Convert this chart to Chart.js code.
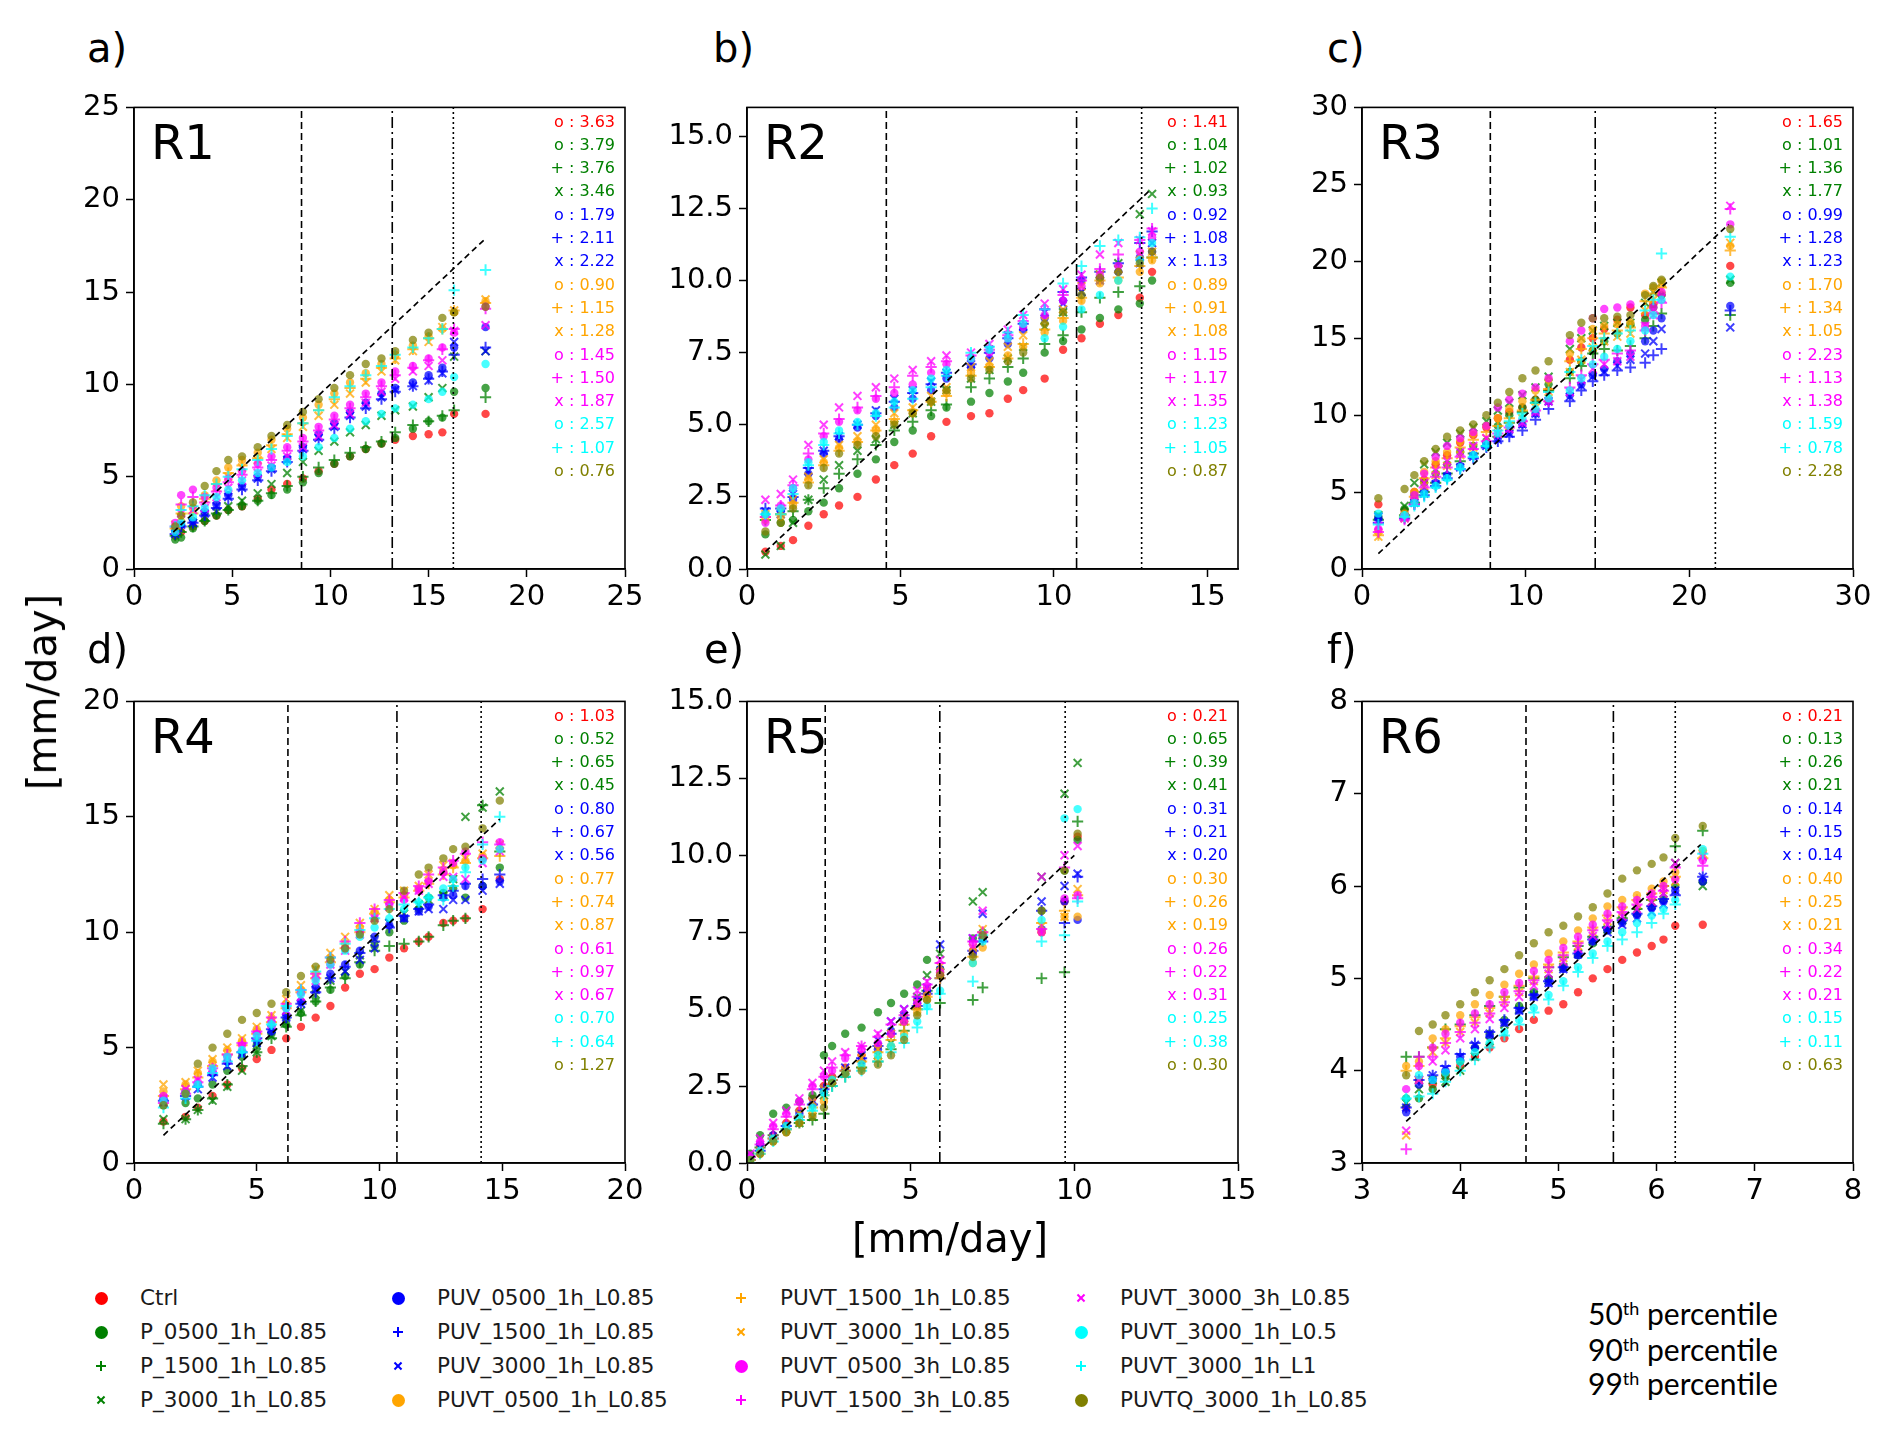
<!DOCTYPE html>
<html>
<head>
<meta charset="utf-8">
<script src="https://cdn.jsdelivr.net/npm/chart.js@4.4.1/dist/chart.umd.min.js"></script>
<style>
  body { margin: 0; width: 1892px; height: 1444px; background: #fff; position: relative; overflow: hidden;
         font-family: "DejaVu Sans", sans-serif; color: #000; }
  canvas.panel { position: absolute; }
  .txt { position: absolute; white-space: nowrap; line-height: 1; }
  .tag { font-size: 40px; }
  .axlabel { font-size: 40px; }
  .leg { font-size: 21.5px; color: #1a1a1a; }
  .pct { font-family: Lato, "Open Sans", sans-serif; font-size: 30px; }
  .pct sup { font-size: 60%; vertical-align: 0.55em; line-height: 0; }
  .mk { position: absolute; }
</style>
</head>
<body>
<script>
// Series meta
const seriesNames = ['Ctrl', 'P_0500_1h_L0.85', 'P_1500_1h_L0.85', 'P_3000_1h_L0.85',
  'PUV_0500_1h_L0.85', 'PUV_1500_1h_L0.85', 'PUV_3000_1h_L0.85',
  'PUVT_0500_1h_L0.85', 'PUVT_1500_1h_L0.85', 'PUVT_3000_1h_L0.85',
  'PUVT_0500_3h_L0.85', 'PUVT_1500_3h_L0.85', 'PUVT_3000_3h_L0.85',
  'PUVT_3000_1h_L0.5', 'PUVT_3000_1h_L1', 'PUVTQ_3000_1h_L0.85'];
const seriesColors = ['#ff0000', '#008000', '#008000', '#008000', '#0000ff', '#0000ff', '#0000ff',
  '#ffa500', '#ffa500', '#ffa500', '#ff00ff', '#ff00ff', '#ff00ff', '#00ffff', '#00ffff', '#808000'];
const seriesMarkers = ['o', 'o', '+', 'x', 'o', '+', 'x', 'o', '+', 'x', 'o', '+', 'x', 'o', '+', 'o'];

// ---- R1 ----
const r1X = [2.1, 2.4, 3.0, 3.6, 4.2, 4.8, 5.5, 6.3, 7.0, 7.8, 8.6, 9.4, 10.2, 11.0, 11.8, 12.6, 13.3, 14.2, 15.0, 15.7, 16.3, 17.9];
const r1Ctrl = [1.8, 2.0, 2.3, 2.6, 2.9, 3.2, 3.4, 3.8, 4.3, 4.6, 4.9, 5.3, 5.7, 6.1, 6.5, 6.8, 7.0, 7.2, 7.3, 7.4, 8.4, 8.4];
const r1P05 = [1.6, 1.7, 2.2, 2.6, 2.9, 3.2, 3.4, 3.7, 4.0, 4.3, 4.7, 5.2, 5.7, 6.1, 6.5, 6.8, 7.1, 7.6, 8.0, 8.2, 9.6, 9.8];
const r1P15 = [1.8, 2.0, 2.3, 2.6, 3.0, 3.2, 3.5, 3.7, 4.1, 4.5, 5.0, 5.5, 5.9, 6.3, 6.6, 6.9, 7.4, 7.8, 8.0, 8.3, 8.6, 9.3];
const r1P30 = [2.0, 2.2, 2.5, 2.8, 3.1, 3.4, 3.7, 4.1, 4.6, 5.2, 5.8, 6.4, 6.9, 7.4, 7.8, 8.3, 8.6, 8.8, 9.3, 9.8, 11.5, 11.8];
const r1Puv05 = [2.0, 2.4, 2.6, 3.1, 3.5, 4.0, 4.5, 5.0, 5.5, 6.0, 6.6, 7.3, 7.9, 8.5, 9.0, 9.5, 9.8, 10.1, 10.5, 10.9, 12.0, 13.1];
const r1Puv15 = [1.9, 2.3, 2.5, 2.9, 3.3, 3.8, 4.3, 4.8, 5.3, 5.8, 6.4, 7.0, 7.6, 8.2, 8.7, 9.2, 9.6, 9.9, 10.3, 10.7, 11.6, 12.0];
const r1Puv30 = [1.9, 2.4, 2.5, 3.0, 3.4, 3.9, 4.4, 4.9, 5.4, 5.9, 6.5, 7.1, 7.7, 8.3, 8.8, 9.3, 9.7, 9.9, 10.2, 10.6, 12.3, 11.8];
const r1T05 = [2.3, 3.4, 3.3, 4.0, 4.8, 5.5, 5.9, 6.3, 7.0, 7.6, 8.2, 8.9, 9.5, 10.1, 10.6, 11.1, 11.6, 12.1, 12.6, 13.0, 13.9, 14.5];
const r1T15 = [2.2, 3.0, 3.0, 3.8, 4.6, 5.2, 5.6, 6.0, 6.7, 7.3, 7.9, 8.6, 9.2, 9.8, 10.3, 10.9, 11.4, 11.9, 12.5, 13.0, 14.0, 14.4];
const r1T30 = [2.4, 2.8, 3.2, 3.8, 4.4, 5.0, 5.5, 5.9, 6.5, 7.1, 7.7, 8.3, 8.9, 9.5, 10.1, 10.7, 11.3, 11.8, 12.3, 13.1, 14.0, 14.6];
const r1T05h3 = [2.5, 4.0, 4.3, 3.9, 4.4, 4.9, 5.3, 5.7, 6.1, 6.6, 7.1, 7.7, 8.3, 8.9, 9.5, 10.1, 10.7, 11.0, 11.4, 12.0, 12.8, 14.2];
const r1T15h3 = [2.3, 3.5, 3.9, 3.6, 4.2, 4.7, 5.1, 5.5, 5.9, 6.4, 6.9, 7.5, 8.1, 8.7, 9.3, 9.9, 10.5, 10.9, 11.3, 11.9, 13.0, 14.1];
const r1T30h3 = [2.1, 3.0, 3.2, 3.3, 3.9, 4.4, 4.8, 5.2, 5.6, 6.1, 6.6, 7.2, 7.8, 8.4, 9.0, 9.6, 10.3, 10.7, 11.0, 11.3, 12.9, 13.2];
const r1L05 = [2.0, 2.5, 2.8, 3.3, 3.9, 4.3, 4.8, 5.2, 5.5, 5.8, 6.1, 6.6, 7.1, 7.6, 8.0, 8.4, 8.7, 8.9, 9.2, 9.6, 10.4, 11.1];
const r1L1 = [2.3, 3.2, 3.4, 4.0, 4.6, 5.0, 5.4, 5.9, 6.5, 7.2, 7.9, 8.6, 9.3, 9.9, 10.5, 11.0, 11.6, 12.0, 12.5, 13.0, 15.1, 16.2];
const r1Q = [2.3, 2.9, 3.6, 4.5, 5.3, 5.9, 6.1, 6.6, 7.2, 7.8, 8.5, 9.2, 9.8, 10.5, 11.1, 11.4, 11.8, 12.4, 12.8, 13.6, 13.9, 14.2];
const r1Err = ['3.63', '3.79', '3.76', '3.46', '1.79', '2.11', '2.22', '0.90', '1.15', '1.28', '1.45', '1.50', '1.87', '2.57', '1.07', '0.76'];
const r1Pct = [8.53, 13.15, 16.26];
const r1Diag = [2.0, 17.9];
const r1XTicks = [0, 5, 10, 15, 20, 25];
const r1YTicks = [0, 5, 10, 15, 20, 25];
const r1YLabels = ['0', '5', '10', '15', '20', '25'];

// ---- R2 ----
const r2X = [0.6, 1.1, 1.5, 2.0, 2.5, 3.0, 3.6, 4.2, 4.8, 5.4, 6.0, 6.5, 7.3, 7.9, 8.5, 9.0, 9.7, 10.3, 10.9, 11.5, 12.1, 12.8, 13.2];
const r2Ctrl = [0.6, 0.8, 1.0, 1.5, 1.9, 2.2, 2.5, 3.1, 3.6, 4.0, 4.6, 5.1, 5.3, 5.4, 5.9, 6.2, 6.6, 7.6, 8.0, 8.5, 8.8, 9.4, 10.3];
const r2P05 = [1.2, 1.6, 1.7, 2.0, 2.3, 2.8, 3.3, 3.8, 4.4, 4.8, 5.3, 5.6, 5.8, 6.1, 6.5, 6.8, 7.5, 7.9, 8.3, 8.7, 9.0, 9.2, 10.0];
const r2P15 = [1.7, 1.9, 2.0, 2.4, 2.8, 3.3, 3.8, 4.3, 4.8, 5.1, 5.5, 5.7, 6.3, 6.6, 7.0, 7.3, 7.8, 8.1, 8.9, 9.4, 9.6, 9.8, 10.8];
const r2P30 = [0.5, 0.8, 1.6, 2.4, 3.1, 3.6, 4.1, 4.5, 5.0, 5.4, 5.8, 6.2, 6.6, 6.9, 7.3, 7.7, 8.4, 8.9, 9.6, 10.2, 10.6, 12.3, 13.0];
const r2Puv05 = [1.9, 2.0, 2.4, 3.3, 4.0, 4.5, 4.9, 5.3, 5.6, 5.9, 6.2, 6.6, 7.0, 7.3, 7.8, 8.3, 8.7, 9.3, 10.0, 10.0, 10.3, 10.8, 11.0];
const r2Puv15 = [2.1, 2.1, 2.5, 3.5, 4.1, 4.6, 5.0, 5.4, 5.8, 6.1, 6.4, 6.8, 7.1, 7.5, 8.0, 8.5, 9.0, 9.6, 10.1, 10.3, 10.6, 11.3, 11.7];
const r2Puv30 = [2.0, 1.9, 2.6, 3.4, 4.1, 4.6, 5.0, 5.5, 5.9, 6.2, 6.5, 6.8, 7.1, 7.6, 8.1, 8.4, 8.9, 9.2, 9.6, 10.0, 10.4, 10.6, 11.3];
const r2T05 = [1.7, 1.8, 2.2, 3.1, 3.7, 4.2, 4.4, 4.8, 5.1, 5.4, 5.8, 6.1, 6.8, 7.0, 7.4, 7.7, 8.2, 8.6, 9.3, 9.9, 10.0, 10.3, 10.7];
const r2T15 = [1.8, 1.9, 2.3, 3.0, 3.6, 4.1, 4.4, 4.8, 5.2, 5.5, 5.8, 6.0, 6.7, 7.0, 7.3, 7.8, 8.3, 8.7, 9.4, 10.0, 10.1, 10.5, 10.8];
const r2T30 = [1.9, 2.0, 2.4, 3.2, 3.8, 4.3, 4.6, 5.0, 5.4, 5.6, 6.0, 6.3, 7.0, 7.2, 7.7, 8.1, 8.6, 9.0, 9.8, 10.2, 10.4, 10.9, 11.0];
const r2T05h3 = [1.6, 2.2, 2.8, 3.8, 4.6, 5.1, 5.5, 5.9, 6.1, 6.4, 6.8, 7.1, 7.3, 7.5, 8.0, 8.4, 8.8, 9.3, 9.8, 10.2, 10.5, 11.0, 11.5];
const r2T15h3 = [1.8, 2.2, 2.9, 4.0, 4.7, 5.2, 5.6, 6.0, 6.3, 6.7, 7.0, 7.2, 7.4, 7.6, 8.1, 8.6, 9.0, 9.5, 10.0, 10.4, 10.9, 11.4, 11.8];
const r2T30h3 = [2.4, 2.6, 3.1, 4.3, 5.0, 5.6, 6.0, 6.3, 6.6, 6.9, 7.2, 7.4, 7.5, 7.8, 8.3, 8.8, 9.2, 9.7, 10.2, 10.9, 11.3, 11.4, 11.7];
const r2L05 = [1.9, 2.1, 2.8, 3.7, 4.4, 4.8, 5.1, 5.4, 5.8, 6.2, 6.6, 6.9, 7.3, 7.6, 8.0, 8.5, 8.0, 8.4, 9.0, 9.5, 10.0, 10.7, 11.3];
const r2L1 = [1.9, 1.9, 2.6, 3.6, 4.3, 4.7, 5.0, 5.3, 5.6, 5.9, 6.3, 6.7, 7.5, 7.7, 8.2, 8.8, 9.0, 9.9, 10.5, 11.2, 11.4, 11.5, 12.5];
const r2Q = [1.3, 1.6, 2.1, 2.9, 3.5, 4.0, 4.3, 4.6, 5.0, 5.4, 5.8, 6.2, 6.6, 6.9, 7.2, 7.5, 8.5, 8.9, 9.5, 10.1, 10.3, 10.6, 11.0];
const r2Err = ['1.41', '1.04', '1.02', '0.93', '0.92', '1.08', '1.13', '0.89', '0.91', '1.08', '1.15', '1.17', '1.35', '1.23', '1.05', '0.87'];
const r2Pct = [4.54, 10.74, 12.86];
const r2Diag = [0.6, 13.1];
const r2XTicks = [0, 5, 10, 15];
const r2YTicks = [0, 2.5, 5, 7.5, 10, 12.5, 15];
const r2YLabels = ['0.0', '2.5', '5.0', '7.5', '10.0', '12.5', '15.0'];

// ---- R3 ----
const r3X = [1.0, 2.6, 3.2, 3.8, 4.5, 5.2, 6.0, 6.8, 7.6, 8.3, 9.0, 9.8, 10.6, 11.4, 12.7, 13.4, 14.1, 14.8, 15.6, 16.4, 17.3, 17.8, 18.3, 22.5];
const r3Ctrl = [4.2, 3.8, 5.0, 5.8, 6.8, 7.4, 8.2, 8.7, 9.2, 9.8, 10.2, 10.5, 11.0, 11.6, 13.6, 14.4, 15.0, 15.6, 16.2, 17.0, 16.5, 17.2, 17.8, 19.7];
const r3P05 = [3.4, 3.9, 4.8, 5.6, 6.2, 6.8, 7.6, 8.0, 8.3, 9.3, 10.0, 10.5, 11.0, 12.0, 12.8, 13.5, 14.2, 14.8, 15.3, 15.9, 16.2, 17.0, 17.8, 18.6];
const r3P15 = [3.2, 3.5, 4.3, 5.0, 5.6, 6.2, 7.0, 7.5, 8.0, 8.6, 9.5, 10.2, 10.8, 11.6, 12.4, 13.2, 14.0, 14.3, 14.2, 14.5, 15.0, 15.8, 16.6, 16.5];
const r3P30 = [3.5, 4.1, 5.6, 6.8, 7.6, 8.2, 8.8, 9.2, 9.6, 10.3, 10.8, 11.3, 11.8, 12.5, 14.3, 15.0, 15.5, 15.8, 16.0, 16.0, 17.3, 18.0, 18.6, 18.8];
const r3Puv05 = [3.3, 3.4, 4.4, 5.0, 5.6, 6.1, 6.7, 7.4, 8.1, 8.5, 8.9, 9.4, 10.1, 10.9, 11.3, 12.0, 12.6, 13.0, 13.5, 14.0, 14.8, 15.5, 16.3, 17.1];
const r3Puv15 = [3.0, 3.3, 4.2, 4.8, 5.4, 5.9, 6.5, 7.2, 7.9, 8.3, 8.6, 9.0, 9.7, 10.4, 10.9, 11.6, 12.2, 12.6, 12.9, 13.1, 13.4, 13.9, 14.3, 16.8];
const r3Puv30 = [3.4, 3.4, 4.3, 4.9, 5.5, 6.0, 6.6, 7.3, 8.0, 8.4, 8.8, 9.4, 10.1, 10.9, 11.2, 11.9, 12.5, 12.8, 13.2, 13.6, 14.0, 14.8, 15.6, 15.7];
const r3T05 = [2.5, 3.6, 5.0, 6.3, 7.0, 7.6, 8.3, 8.8, 9.3, 9.8, 10.4, 10.9, 11.6, 12.3, 14.0, 14.9, 15.6, 15.8, 15.9, 16.0, 17.9, 18.3, 18.7, 21.0];
const r3T15 = [2.2, 3.4, 4.7, 5.9, 6.6, 7.2, 7.9, 8.4, 8.9, 9.3, 9.8, 10.3, 11.0, 11.7, 13.5, 14.3, 15.0, 15.3, 15.5, 15.7, 17.4, 17.9, 18.3, 20.7];
const r3T30 = [2.1, 3.3, 4.4, 5.4, 6.1, 6.7, 7.4, 7.9, 8.5, 8.8, 9.3, 9.8, 10.5, 11.1, 12.8, 13.6, 14.4, 14.8, 15.1, 15.3, 16.8, 17.5, 18.2, 21.2];
const r3T05h3 = [2.6, 3.4, 4.8, 6.2, 7.3, 8.0, 8.5, 8.9, 9.3, 10.5, 11.0, 11.4, 11.8, 12.4, 14.8, 15.5, 16.3, 16.9, 17.0, 17.2, 15.8, 17.0, 18.0, 22.4];
const r3T15h3 = [2.4, 3.2, 4.2, 5.3, 6.0, 6.6, 7.3, 7.8, 8.3, 8.8, 9.2, 9.6, 10.3, 10.9, 11.8, 12.6, 13.3, 13.6, 14.0, 14.2, 15.5, 16.6, 17.3, 23.4];
const r3T30h3 = [2.8, 3.3, 4.4, 5.6, 6.4, 7.0, 7.6, 8.0, 8.5, 8.8, 9.1, 9.5, 10.2, 10.9, 11.5, 12.3, 13.0, 13.3, 13.5, 13.8, 15.8, 16.5, 17.6, 23.6];
const r3L05 = [3.6, 3.5, 4.3, 4.9, 5.4, 5.9, 6.6, 7.4, 8.1, 8.8, 9.3, 9.8, 10.4, 11.1, 11.6, 12.4, 13.3, 13.8, 14.3, 14.8, 15.5, 16.5, 17.5, 19.0];
const r3L1 = [2.9, 3.4, 4.1, 4.7, 5.3, 5.8, 6.5, 7.3, 8.0, 9.0, 9.6, 10.1, 10.8, 11.5, 12.8, 13.6, 14.5, 15.0, 15.3, 15.5, 16.8, 17.5, 20.5, 21.6];
const r3Q = [4.6, 5.2, 6.1, 7.0, 7.8, 8.6, 9.0, 9.4, 10.0, 10.8, 11.5, 12.4, 12.9, 13.5, 15.2, 16.0, 16.3, 16.3, 16.4, 16.5, 17.8, 18.4, 18.8, 22.1];
const r3Err = ['1.65', '1.01', '1.36', '1.77', '0.99', '1.28', '1.23', '1.70', '1.34', '1.05', '2.23', '1.13', '1.38', '1.59', '0.78', '2.28'];
const r3Pct = [7.84, 14.25, 21.59];
const r3Diag = [1.0, 22.4];
const r3XTicks = [0, 10, 20, 30];
const r3YTicks = [0, 5, 10, 15, 20, 25, 30];
const r3YLabels = ['0', '5', '10', '15', '20', '25', '30'];

// ---- R4 ----
const r4X = [1.2, 2.1, 2.6, 3.2, 3.8, 4.4, 5.0, 5.6, 6.2, 6.8, 7.4, 8.0, 8.6, 9.2, 9.8, 10.4, 11.0, 11.6, 12.0, 12.6, 13.0, 13.5, 14.2, 14.9];
const r4Ctrl = [1.8, 2.0, 2.4, 2.9, 3.4, 4.1, 4.5, 4.9, 5.4, 5.9, 6.3, 6.8, 7.6, 8.2, 8.4, 8.9, 9.3, 9.6, 9.8, 10.4, 10.5, 10.6, 11.0, 12.3];
const r4P05 = [2.5, 2.6, 2.8, 3.4, 4.0, 4.6, 5.1, 5.6, 6.0, 6.5, 7.0, 7.5, 8.1, 8.6, 9.4, 10.0, 10.5, 11.0, 11.5, 11.7, 11.9, 11.5, 12.0, 12.8];
const r4P15 = [1.7, 1.9, 2.3, 2.8, 3.4, 4.2, 4.8, 5.4, 5.9, 6.4, 7.0, 7.6, 8.0, 8.7, 9.2, 9.4, 9.5, 9.6, 9.8, 10.3, 10.5, 10.6, 15.5, 13.5];
const r4P30 = [1.9, 1.9, 2.3, 2.7, 3.3, 4.0, 4.8, 5.5, 6.1, 6.6, 7.3, 7.9, 8.3, 9.0, 9.7, 10.4, 10.8, 11.2, 11.4, 11.6, 12.3, 15.0, 15.4, 16.1];
const r4Puv05 = [2.8, 3.1, 3.4, 3.9, 4.4, 4.8, 5.3, 5.7, 6.4, 7.0, 7.6, 8.2, 8.6, 9.2, 9.8, 10.3, 10.6, 10.9, 11.1, 11.5, 11.6, 12.0, 12.0, 12.2];
const r4Puv15 = [2.7, 2.9, 3.3, 3.8, 4.3, 4.8, 5.4, 5.8, 6.3, 6.9, 7.4, 8.0, 8.5, 9.1, 9.6, 10.2, 10.7, 11.0, 11.2, 11.6, 11.8, 12.1, 12.3, 12.5];
const r4Puv30 = [2.6, 2.9, 3.2, 3.7, 4.2, 4.7, 5.2, 5.8, 6.3, 6.9, 7.5, 8.0, 8.3, 8.8, 9.3, 10.4, 10.6, 10.9, 11.0, 11.0, 11.4, 11.4, 11.8, 12.1];
const r4T05 = [3.1, 3.4, 3.9, 4.4, 4.9, 5.3, 5.8, 6.3, 6.9, 7.5, 8.2, 8.9, 9.5, 10.2, 10.9, 11.4, 11.6, 11.9, 12.2, 12.6, 12.9, 13.1, 13.3, 13.6];
const r4T15 = [2.9, 3.2, 3.7, 4.2, 4.7, 5.1, 5.6, 6.1, 6.7, 7.4, 8.0, 8.7, 9.3, 10.0, 10.8, 11.3, 11.5, 11.8, 12.1, 12.5, 12.8, 13.0, 13.2, 13.3];
const r4T30 = [3.4, 3.5, 4.0, 4.5, 5.0, 5.4, 5.9, 6.4, 7.1, 7.7, 8.4, 9.1, 9.8, 10.4, 11.0, 11.6, 11.8, 12.0, 12.5, 12.9, 13.0, 13.2, 13.4, 13.8];
const r4T05h3 = [2.9, 3.1, 3.5, 4.0, 4.6, 5.1, 5.6, 6.1, 6.7, 7.4, 8.0, 8.6, 9.3, 10.0, 10.6, 11.2, 11.4, 11.8, 12.2, 12.6, 13.0, 13.5, 13.2, 13.9];
const r4T15h3 = [2.6, 3.0, 3.5, 4.1, 4.7, 5.2, 5.7, 6.3, 6.9, 7.5, 8.2, 8.9, 9.6, 10.4, 11.0, 11.4, 11.7, 12.0, 12.5, 12.8, 13.1, 13.4, 13.9, 13.8];
const r4T30h3 = [2.8, 3.2, 3.6, 4.1, 4.5, 5.0, 5.5, 6.0, 6.6, 7.2, 7.9, 8.6, 9.2, 9.9, 10.6, 11.1, 11.5, 11.8, 12.1, 12.4, 12.4, 12.3, 13.0, 13.5];
const r4L05 = [2.7, 3.0, 3.4, 4.1, 4.6, 4.9, 5.5, 6.0, 6.7, 7.3, 7.9, 8.6, 9.2, 9.8, 10.2, 10.6, 11.0, 11.3, 11.5, 11.9, 12.3, 12.8, 13.1, 13.6];
const r4L1 = [2.4, 2.8, 3.3, 3.9, 4.4, 4.8, 5.3, 6.0, 6.8, 7.5, 8.3, 8.9, 9.5, 10.1, 10.6, 11.0, 11.2, 11.3, 11.5, 11.4, 12.0, 12.6, 13.8, 15.0];
const r4Q = [2.5, 3.0, 4.3, 5.0, 5.6, 6.2, 6.5, 6.9, 7.4, 8.1, 8.5, 8.8, 9.3, 9.9, 10.5, 11.0, 11.8, 12.5, 12.8, 13.2, 13.6, 13.7, 14.5, 15.7];
const r4Err = ['1.03', '0.52', '0.65', '0.45', '0.80', '0.67', '0.56', '0.77', '0.74', '0.87', '0.61', '0.97', '0.67', '0.70', '0.64', '1.27'];
const r4Pct = [6.27, 10.71, 14.14];
const r4Diag = [1.2, 14.9];
const r4XTicks = [0, 5, 10, 15, 20];
const r4YTicks = [0, 5, 10, 15, 20];
const r4YLabels = ['0', '5', '10', '15', '20'];

// ---- R5 ----
const r5X = [0.1, 0.4, 0.8, 1.2, 1.6, 2.0, 2.35, 2.6, 3.0, 3.5, 4.0, 4.4, 4.8, 5.2, 5.5, 5.9, 6.9, 7.2, 9.0, 9.7, 10.1];
const r5Ctrl = [0.1, 0.5, 0.9, 1.3, 1.7, 2.1, 2.5, 2.8, 3.1, 3.5, 3.8, 4.2, 4.6, 5.1, 5.5, 6.1, 6.9, 7.3, 7.5, 8.5, 10.6];
const r5P05 = [0.3, 0.9, 1.6, 1.8, 2.0, 2.2, 3.5, 3.8, 4.2, 4.4, 4.9, 5.2, 5.5, 5.8, 6.6, 6.3, 7.3, 7.5, 8.2, 9.5, 10.5];
const r5P15 = [0.2, 0.5, 0.9, 1.1, 1.3, 1.4, 1.6, 2.5, 2.8, 3.1, 3.3, 3.7, 4.3, 5.0, 5.6, 5.2, 5.3, 5.7, 6.0, 6.2, 11.1];
const r5P30 = [0.1, 0.5, 0.8, 1.1, 1.3, 1.5, 2.2, 2.6, 2.9, 3.2, 3.5, 3.9, 4.6, 5.4, 6.1, 6.8, 8.5, 8.8, 9.3, 12.0, 13.0];
const r5Puv05 = [0.2, 0.6, 0.9, 1.2, 1.6, 1.9, 2.3, 2.6, 2.9, 3.3, 3.7, 4.3, 4.8, 5.3, 5.6, 6.3, 6.8, 7.3, 7.6, 8.5, 7.9];
const r5Puv15 = [0.1, 0.4, 0.8, 1.2, 1.5, 1.9, 2.4, 2.7, 3.0, 3.4, 3.8, 4.2, 4.7, 5.1, 5.5, 6.0, 6.9, 7.2, 8.2, 7.8, 9.3];
const r5Puv30 = [0.1, 0.4, 0.8, 1.2, 1.6, 2.0, 2.4, 2.7, 3.1, 3.5, 4.0, 4.6, 5.0, 5.3, 5.7, 7.1, 7.3, 8.1, 8.5, 9.0, 9.4];
const r5T05 = [0.1, 0.3, 0.7, 1.0, 1.3, 1.6, 2.0, 2.6, 2.9, 3.1, 3.4, 3.8, 4.2, 4.9, 5.3, 6.2, 6.5, 7.0, 7.5, 8.0, 8.0];
const r5T15 = [0.1, 0.3, 0.8, 1.1, 1.5, 1.8, 2.2, 2.7, 3.0, 3.3, 3.6, 4.0, 4.5, 5.0, 5.4, 6.0, 6.7, 7.5, 7.8, 8.2, 8.7];
const r5T30 = [0.1, 0.4, 0.8, 1.2, 1.6, 2.0, 2.4, 2.7, 3.0, 3.4, 3.7, 4.2, 4.7, 5.2, 5.6, 6.4, 7.0, 7.6, 7.7, 8.0, 8.9];
const r5T05h3 = [0.2, 0.7, 1.2, 1.6, 2.0, 2.5, 2.8, 3.0, 3.4, 3.7, 3.9, 4.2, 4.6, 5.2, 5.7, 6.2, 7.1, 7.4, 7.5, 8.6, 8.7];
const r5T15h3 = [0.2, 0.6, 1.1, 1.5, 1.9, 2.4, 2.8, 3.1, 3.5, 3.8, 4.1, 4.5, 4.8, 5.4, 5.8, 6.5, 7.2, 7.5, 7.6, 9.6, 8.6];
const r5T30h3 = [0.3, 0.8, 1.3, 1.7, 2.1, 2.6, 3.0, 3.3, 3.6, 3.8, 4.2, 4.6, 5.0, 5.6, 5.9, 6.6, 7.3, 8.2, 9.3, 10.0, 10.3];
const r5L05 = [0.1, 0.4, 0.8, 1.2, 1.5, 1.8, 2.3, 2.7, 2.9, 3.2, 3.5, 3.8, 4.1, 4.6, 5.1, 5.6, 6.5, 7.2, 7.9, 11.2, 11.5];
const r5L1 = [0.0, 0.3, 0.7, 1.1, 1.4, 1.7, 2.2, 2.5, 2.8, 3.0, 3.3, 3.6, 3.9, 4.4, 5.0, 5.5, 5.9, 7.4, 7.2, 7.4, 8.5];
const r5Q = [0.1, 0.3, 0.7, 1.0, 1.3, 1.5, 1.8, 2.6, 2.9, 3.0, 3.2, 3.5, 4.0, 4.8, 5.3, 6.1, 6.7, 7.4, 8.2, 9.5, 10.7];
const r5Err = ['0.21', '0.65', '0.39', '0.41', '0.31', '0.21', '0.20', '0.30', '0.26', '0.19', '0.26', '0.22', '0.31', '0.25', '0.38', '0.30'];
const r5Pct = [2.39, 5.89, 9.72];
const r5Diag = [0.1, 10.0];
const r5XTicks = [0, 5, 10, 15];
const r5YTicks = [0, 2.5, 5, 7.5, 10, 12.5, 15];
const r5YLabels = ['0.0', '2.5', '5.0', '7.5', '10.0', '12.5', '15.0'];

// ---- R6 ----
const r6X = [3.45, 3.58, 3.72, 3.85, 4.0, 4.15, 4.3, 4.45, 4.6, 4.75, 4.9, 5.05, 5.2, 5.35, 5.5, 5.65, 5.8, 5.95, 6.07, 6.19, 6.47];
const r6Ctrl = [3.6, 3.9, 3.85, 3.95, 4.05, 4.15, 4.25, 4.35, 4.45, 4.55, 4.65, 4.72, 4.85, 5.0, 5.1, 5.2, 5.28, 5.35, 5.42, 5.57, 5.58];
const r6P05 = [3.7, 3.7, 3.8, 3.95, 4.1, 4.25, 4.4, 4.55, 4.7, 4.85, 5.0, 5.12, 5.25, 5.38, 5.52, 5.62, 5.7, 5.78, 5.85, 6.0, 6.05];
const r6P15 = [4.15, 4.15, 4.25, 4.45, 4.5, 4.6, 4.7, 4.8, 4.9, 5.0, 5.12, 5.23, 5.35, 5.45, 5.55, 5.65, 5.75, 5.85, 6.0, 6.43, 6.6];
const r6P30 = [3.65, 3.8, 3.9, 3.88, 4.0, 4.15, 4.32, 4.5, 4.66, 4.82, 4.98, 5.12, 5.27, 5.4, 5.53, 5.63, 5.72, 5.82, 5.92, 6.25, 6.0];
const r6Puv05 = [3.55, 3.85, 3.9, 4.0, 4.15, 4.25, 4.38, 4.52, 4.65, 4.8, 4.95, 5.1, 5.25, 5.4, 5.52, 5.6, 5.68, 5.76, 5.83, 5.95, 6.05];
const r6Puv15 = [3.6, 3.9, 3.95, 4.05, 4.18, 4.3, 4.42, 4.55, 4.68, 4.82, 4.97, 5.12, 5.27, 5.42, 5.55, 5.63, 5.7, 5.78, 5.86, 5.9, 6.1];
const r6Puv30 = [3.6, 3.9, 3.95, 4.02, 4.15, 4.28, 4.4, 4.52, 4.65, 4.8, 4.95, 5.1, 5.26, 5.42, 5.5, 5.58, 5.65, 5.72, 5.8, 5.95, 6.1];
const r6T05 = [4.05, 4.1, 4.35, 4.45, 4.6, 4.72, 4.82, 4.93, 5.05, 5.15, 5.27, 5.4, 5.52, 5.65, 5.78, 5.85, 5.9, 5.97, 6.05, 6.15, 6.38];
const r6T15 = [4.0, 4.05, 4.25, 4.35, 4.48, 4.58, 4.68, 4.8, 4.92, 5.02, 5.15, 5.28, 5.4, 5.55, 5.68, 5.77, 5.85, 5.92, 6.0, 6.1, 6.3];
const r6T30 = [3.3, 3.9, 4.2, 4.3, 4.42, 4.52, 4.62, 4.74, 4.85, 4.97, 5.1, 5.22, 5.35, 5.5, 5.62, 5.72, 5.8, 5.88, 5.96, 6.05, 6.35];
const r6T05h3 = [3.8, 4.05, 4.25, 4.4, 4.52, 4.62, 4.72, 4.85, 4.95, 5.08, 5.2, 5.33, 5.45, 5.58, 5.7, 5.78, 5.85, 5.92, 6.0, 6.07, 6.28];
const r6T15h3 = [3.15, 4.15, 4.15, 4.3, 4.42, 4.52, 4.62, 4.74, 4.86, 4.98, 5.12, 5.25, 5.38, 5.52, 5.63, 5.72, 5.8, 5.88, 5.95, 6.2, 6.22];
const r6T30h3 = [3.35, 3.9, 4.1, 4.22, 4.35, 4.45, 4.56, 4.68, 4.8, 4.92, 5.05, 5.18, 5.32, 5.46, 5.58, 5.67, 5.75, 5.83, 5.92, 6.25, 6.32];
const r6L05 = [3.7, 3.95, 3.9, 3.98, 4.1, 4.2, 4.3, 4.42, 4.55, 4.68, 4.82, 4.97, 5.12, 5.27, 5.4, 5.5, 5.6, 5.68, 5.75, 5.85, 6.4];
const r6L1 = [3.7, 3.72, 3.75, 3.88, 4.0, 4.12, 4.25, 4.38, 4.5, 4.63, 4.77, 4.92, 5.07, 5.22, 5.35, 5.42, 5.5, 5.6, 5.7, 5.8, 6.35];
const r6Q = [3.95, 4.43, 4.5, 4.6, 4.72, 4.85, 4.98, 5.1, 5.25, 5.38, 5.5, 5.57, 5.67, 5.77, 5.92, 6.08, 6.17, 6.24, 6.31, 6.52, 6.65];
const r6Err = ['0.21', '0.13', '0.26', '0.21', '0.14', '0.15', '0.14', '0.40', '0.25', '0.21', '0.34', '0.22', '0.21', '0.15', '0.11', '0.63'];
const r6Pct = [4.67, 5.56, 6.19];
const r6Diag = [3.45, 6.45];
const r6XTicks = [3, 4, 5, 6, 7, 8];
const r6YTicks = [3, 4, 5, 6, 7, 8];
const r6YLabels = ['3', '4', '5', '6', '7', '8'];

const pctNames = ['50', '90', '99'];

// Panel table (layout in page pixels: left/top of the plot area)
const panels = [
  { name: 'R1', tag: 'a)', x: r1X, ys: [r1Ctrl, r1P05, r1P15, r1P30, r1Puv05, r1Puv15, r1Puv30, r1T05, r1T15, r1T30, r1T05h3, r1T15h3, r1T30h3, r1L05, r1L1, r1Q],
    err: r1Err, pct: r1Pct, diag: r1Diag, xr: [0, 25], yr: [0, 25], xt: r1XTicks, yt: r1YTicks, yl: r1YLabels,
    left: 134, top: 104, tagX: 87, tagY: 28 },
  { name: 'R2', tag: 'b)', x: r2X, ys: [r2Ctrl, r2P05, r2P15, r2P30, r2Puv05, r2Puv15, r2Puv30, r2T05, r2T15, r2T30, r2T05h3, r2T15h3, r2T30h3, r2L05, r2L1, r2Q],
    err: r2Err, pct: r2Pct, diag: r2Diag, xr: [0, 16], yr: [0, 16], xt: r2XTicks, yt: r2YTicks, yl: r2YLabels,
    left: 747, top: 104, tagX: 713, tagY: 28 },
  { name: 'R3', tag: 'c)', x: r3X, ys: [r3Ctrl, r3P05, r3P15, r3P30, r3Puv05, r3Puv15, r3Puv30, r3T05, r3T15, r3T30, r3T05h3, r3T15h3, r3T30h3, r3L05, r3L1, r3Q],
    err: r3Err, pct: r3Pct, diag: r3Diag, xr: [0, 30], yr: [0, 30], xt: r3XTicks, yt: r3YTicks, yl: r3YLabels,
    left: 1362, top: 104, tagX: 1327, tagY: 28 },
  { name: 'R4', tag: 'd)', x: r4X, ys: [r4Ctrl, r4P05, r4P15, r4P30, r4Puv05, r4Puv15, r4Puv30, r4T05, r4T15, r4T30, r4T05h3, r4T15h3, r4T30h3, r4L05, r4L1, r4Q],
    err: r4Err, pct: r4Pct, diag: r4Diag, xr: [0, 20], yr: [0, 20], xt: r4XTicks, yt: r4YTicks, yl: r4YLabels,
    left: 134, top: 698, tagX: 87, tagY: 629 },
  { name: 'R5', tag: 'e)', x: r5X, ys: [r5Ctrl, r5P05, r5P15, r5P30, r5Puv05, r5Puv15, r5Puv30, r5T05, r5T15, r5T30, r5T05h3, r5T15h3, r5T30h3, r5L05, r5L1, r5Q],
    err: r5Err, pct: r5Pct, diag: r5Diag, xr: [0, 15], yr: [0, 15], xt: r5XTicks, yt: r5YTicks, yl: r5YLabels,
    left: 747, top: 698, tagX: 704, tagY: 629 },
  { name: 'R6', tag: 'f)', x: r6X, ys: [r6Ctrl, r6P05, r6P15, r6P30, r6Puv05, r6Puv15, r6Puv30, r6T05, r6T15, r6T30, r6T05h3, r6T15h3, r6T30h3, r6L05, r6L1, r6Q],
    err: r6Err, pct: r6Pct, diag: r6Diag, xr: [3, 8], yr: [3, 8], xt: r6XTicks, yt: r6YTicks, yl: r6YLabels,
    left: 1362, top: 698, tagX: 1327, tagY: 629 }
];

const PLOT_W = 491, PLOT_H = 465;
const PAD_L = 120, PAD_T = 20, PAD_R = 30, PAD_B = 60;
const styleFor = { 'o': 'circle', '+': 'cross', 'x': 'crossRot' };
const pctDash = [[7, 4], [11, 4, 2, 4], [2, 3]];

function rgba(hex, a) {
  const n = parseInt(hex.slice(1), 16);
  return `rgba(${(n >> 16) & 255}, ${(n >> 8) & 255}, ${n & 255}, ${a})`;
}

function addText(html, cls, left, top, extra) {
  const d = document.createElement('div');
  d.className = 'txt ' + cls;
  d.innerHTML = html;
  d.style.left = left + 'px';
  d.style.top = top + 'px';
  if (extra) Object.assign(d.style, extra);
  document.body.appendChild(d);
  return d;
}

// frame + region name + error list
const panelDecor = {
  id: 'panelDecor',
  afterDraw(chart, args, opts) {
    const { ctx, chartArea: a } = chart;
    ctx.save();
    ctx.strokeStyle = '#000';
    ctx.lineWidth = 1.6;
    ctx.strokeRect(a.left, a.top, a.right - a.left, a.bottom - a.top);
    ctx.fillStyle = '#000';
    ctx.font = '48px "DejaVu Sans"';
    ctx.textAlign = 'left';
    ctx.textBaseline = 'alphabetic';
    ctx.fillText(opts.name, a.left + 17, a.top + 52);
    ctx.font = '16px "DejaVu Sans"';
    ctx.textAlign = 'right';
    ctx.textBaseline = 'middle';
    opts.err.forEach((e, i) => {
      ctx.fillStyle = seriesColors[i];
      ctx.fillText(seriesMarkers[i] + ' : ' + e, a.right - 10, a.top + 15 + i * 23.3);
    });
    ctx.restore();
  }
};

function makePanel(p) {
  const cv = document.createElement('canvas');
  cv.className = 'panel';
  const w = PLOT_W + PAD_L + PAD_R, h = PLOT_H + PAD_T + PAD_B;
  cv.width = w; cv.height = h;
  cv.style.left = (p.left - PAD_L) + 'px';
  cv.style.top = (p.top - PAD_T) + 'px';
  cv.style.width = w + 'px'; cv.style.height = h + 'px';
  document.body.appendChild(cv);

  const datasets = [];
  p.ys.forEach((ys, i) => {
    const m = seriesMarkers[i];
    const pts = [];
    p.x.forEach((xv, j) => { if (ys[j] !== undefined) pts.push({ x: xv, y: ys[j] }); });
    datasets.push({
      label: seriesNames[i],
      data: pts,
      pointStyle: styleFor[m],
      pointRadius: m === 'o' ? 4.2 : 5.6,
      pointBackgroundColor: rgba(seriesColors[i], 0.72),
      pointBorderColor: m === 'o' ? 'rgba(0,0,0,0)' : rgba(seriesColors[i], 0.75),
      pointBorderWidth: m === 'o' ? 0 : 2,
      order: 100 - i
    });
  });
  // 1:1 reference line
  datasets.push({
    data: [{ x: p.diag[0], y: p.diag[0] }, { x: p.diag[1], y: p.diag[1] }],
    showLine: true, pointRadius: 0, borderColor: '#000', borderWidth: 1.7, borderDash: [6, 4], order: 0
  });
  // percentile lines
  p.pct.forEach((v, k) => {
    datasets.push({
      data: [{ x: v, y: p.yr[0] }, { x: v, y: p.yr[1] }],
      showLine: true, pointRadius: 0, borderColor: '#000', borderWidth: 1.6, borderDash: pctDash[k], order: 0
    });
  });

  new Chart(cv.getContext('2d'), {
    type: 'scatter',
    data: { datasets },
    options: {
      responsive: false,
      animation: false,
      devicePixelRatio: 1,
      layout: { padding: { top: PAD_T, right: PAD_R, left: 0, bottom: 0 }, autoPadding: false },
      plugins: { legend: { display: false }, tooltip: { enabled: false }, panelDecor: { name: p.name, err: p.err } },
      scales: {
        x: {
          type: 'linear', min: p.xr[0], max: p.xr[1],
          afterBuildTicks: s => { s.ticks = p.xt.map(v => ({ value: v })); },
          afterFit: s => { s.height = PAD_B; },
          ticks: { color: '#000', font: { size: 29, family: 'DejaVu Sans' }, padding: 3, maxRotation: 0, autoSkip: false },
          grid: { drawOnChartArea: false, drawTicks: true, tickLength: 8, tickWidth: 1.5, tickColor: '#000' },
          border: { display: true, color: '#000', width: 1.6 }
        },
        y: {
          type: 'linear', min: p.yr[0], max: p.yr[1],
          afterBuildTicks: s => { s.ticks = p.yt.map(v => ({ value: v })); },
          afterFit: s => { s.width = PAD_L; },
          ticks: { color: '#000', font: { size: 29, family: 'DejaVu Sans' }, padding: 6, autoSkip: false,
                   callback: (v, idx) => p.yl[idx] },
          grid: { drawOnChartArea: false, drawTicks: true, tickLength: 8, tickWidth: 1.5, tickColor: '#000' },
          border: { display: true, color: '#000', width: 1.6 }
        }
      }
    },
    plugins: [panelDecor]
  });

  addText(p.tag, 'tag', p.tagX, p.tagY);
}

panels.forEach(makePanel);

// axis labels
addText('[mm/day]', 'axlabel', 950, 1218, { transform: 'translateX(-50%)' });
addText('[mm/day]', 'axlabel', 42, 692, { transform: 'translate(-50%, -50%) rotate(-90deg)' });

// legend: 4 columns x 4 rows, column-major
const legCols = [101, 398, 741, 1081];
const legRows = [1298, 1332, 1366, 1400];
seriesNames.forEach((nm, i) => {
  const cx = legCols[Math.floor(i / 4)], cy = legRows[i % 4];
  const m = seriesMarkers[i], col = seriesColors[i];
  if (m === 'o') {
    const d = document.createElement('div');
    d.className = 'mk';
    Object.assign(d.style, { left: (cx - 6.5) + 'px', top: (cy - 6.5) + 'px', width: '13px', height: '13px',
      borderRadius: '50%', background: col });
    document.body.appendChild(d);
  } else {
    const rot = m === 'x' ? 45 : 0;
    [0, 90].forEach(a => {
      const d = document.createElement('div');
      d.className = 'mk';
      Object.assign(d.style, { left: (cx - 5) + 'px', top: (cy - 1) + 'px', width: '10px', height: '2px',
        background: col, transform: `rotate(${a + rot}deg)` });
      document.body.appendChild(d);
    });
  }
  addText(nm, 'leg', cx + 39, cy - 11);
});

// percentile legend
const pctRows = [1313, 1349, 1383];
pctNames.forEach((n, k) => {
  addText(n + '<sup>th</sup> percentile', 'pct', 1588, pctRows[k] - 15);
});
</script>
</body>
</html>
